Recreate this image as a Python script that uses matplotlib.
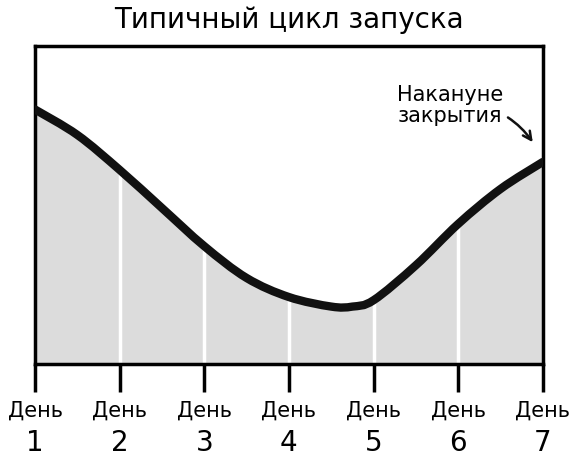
import numpy as np
import matplotlib.pyplot as plt
from matplotlib.path import Path
from matplotlib.patches import PathPatch

# values (0 = bottom of box, 100 = top)
days = [1, 1.5, 2, 2.5, 3, 3.5, 4, 4.5, 4.75, 5, 5.5, 6, 6.5, 7]
level = [80, 72, 61, 49, 37, 27, 21, 18, 18, 20, 31, 44, 55, 63.5]
day_words = ["День"] * 7
day_numbers = ["1", "2", "3", "4", "5", "6", "7"]


def smooth_path(xs, ys):
    # Catmull-Rom through the read points, drawn as cubic Bezier segments
    pts = np.column_stack([xs, ys])
    verts = [pts[0]]
    codes = [Path.MOVETO]
    for i in range(len(pts) - 1):
        p0 = pts[max(i - 1, 0)]
        p1, p2 = pts[i], pts[i + 1]
        p3 = pts[min(i + 2, len(pts) - 1)]
        verts += [p1 + (p2 - p0) / 6, p2 - (p3 - p1) / 6, p2]
        codes += [Path.CURVE4] * 3
    return verts, codes


fig = plt.figure(figsize=(5.75, 4.56), dpi=100)
ax = fig.add_axes([0.061, 0.2, 0.883, 0.697])

verts, codes = smooth_path(days, level)
fill_verts = verts + [(days[-1], 0), (days[0], 0), verts[0]]
fill_codes = codes + [Path.LINETO, Path.LINETO, Path.CLOSEPOLY]
ax.add_patch(PathPatch(Path(fill_verts, fill_codes), fc="#dcdcdc", lw=0, zorder=1))
for d in range(2, 7):
    ax.plot([d, d], [0, np.interp(d, days, level)], color="white", lw=2.5, zorder=2)
ax.add_patch(PathPatch(Path(verts, codes), fc="none", ec="#111111", lw=6,
                       capstyle="round", joinstyle="round", zorder=3))

ax.set_xlim(1, 7)
ax.set_ylim(0, 100)
ax.set_yticks([])
ax.set_xticks(range(1, 8))
ax.set_xticklabels(day_words, fontsize=15)
ax.tick_params(axis="x", length=20, width=2.5, direction="out", pad=6)
for d, n in zip(range(1, 8), day_numbers):
    ax.text(d, -0.245, n, transform=ax.get_xaxis_transform(), ha="center",
            va="center", fontsize=20, clip_on=False)
for s in ax.spines.values():
    s.set_linewidth(2.5)

ax.set_title("Типичный цикл запуска", fontsize=20, pad=14)

ax.annotate("Накануне\nзакрытия", xy=(6.9, 69), xytext=(5.9, 75),
            fontsize=15, ha="center", va="bottom", linespacing=1.1,
            arrowprops=dict(arrowstyle="->", lw=1.8, color="#111111",
                            connectionstyle="arc3,rad=-0.3"))

fig.savefig("out.png", dpi=100)
